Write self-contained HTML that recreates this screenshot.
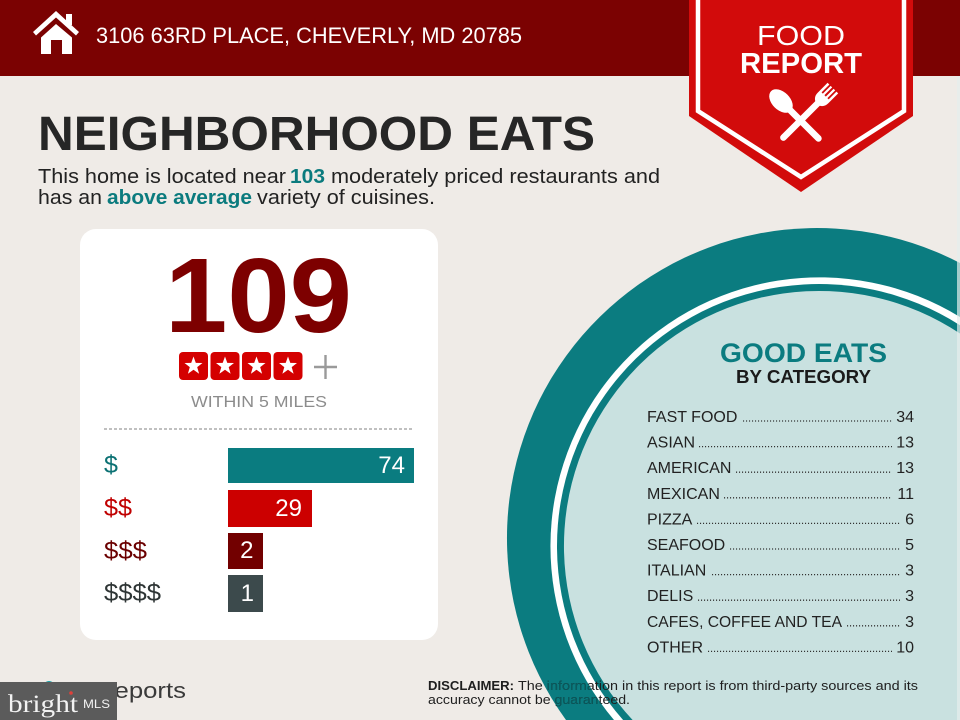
<!DOCTYPE html>
<html><head><meta charset="utf-8"><style>
html,body{margin:0;padding:0;background:#efebe7;width:960px;height:720px;overflow:hidden;}
svg{display:block;}
text{font-family:"Liberation Sans",Arial,sans-serif;}
</style></head><body>
<svg width="960" height="720" viewBox="0 0 960 720" xmlns="http://www.w3.org/2000/svg">
<defs>
<clipPath id="ring"><path clip-rule="evenodd" d="M960,263 A310,310 0 0,0 566,720 L960,720 Z M960,317 A269,269 0 0,0 614,720 L960,720 Z"/></clipPath>
<symbol id="star" viewBox="-10 -10 20 20"><polygon fill="#fff" points="0,-9.5 2.3,-3.1 9,-3 3.7,1.1 5.6,7.7 0,3.8 -5.6,7.7 -3.7,1.1 -9,-3 -2.3,-3.1"/></symbol>
</defs>
<rect width="960" height="720" fill="#efebe7"/>
<!-- header -->
<rect x="0" y="0" width="960" height="76" fill="#7b0202"/>
<g fill="#fff">
<polygon points="33,32 56,11 79,32 76,35.5 56,17.5 36,35.5"/>
<rect x="66" y="14" width="6" height="11"/>
<path d="M41,37.5 L56,24 L72,37.5 L72,54 L62,54 L62,40 L51,40 L51,54 L41,54 Z"/>
</g>
<text x="96" y="43" font-size="22" fill="#fff" textLength="426" lengthAdjust="spacingAndGlyphs">3106 63RD PLACE, CHEVERLY, MD 20785</text>
<!-- banner -->
<polygon points="689,0 913,0 913,116 801,192 689,116" fill="#d20b0b"/>
<polyline points="698,0 698,111 801,177 904,111 904,0" fill="none" stroke="#fff" stroke-width="4.5"/>
<text x="757" y="45" font-size="28" fill="#fff" textLength="88" lengthAdjust="spacingAndGlyphs">FOOD</text>
<text x="740" y="73" font-size="29" font-weight="bold" fill="#fff" textLength="122" lengthAdjust="spacingAndGlyphs">REPORT</text>
<g fill="#fff" stroke="#fff">
<g transform="translate(823,98) rotate(45)">
<path stroke="none" d="M-7.5,-14 L-5,-14 L-5,-3 L-3.2,-3 L-3.2,-14 L-1,-14 L-1,-3 L1,-3 L1,-14 L3.2,-14 L3.2,-3 L5,-3 L5,-14 L7.5,-14 L7.5,0 Q7.5,7 0,9 Q-7.5,7 -7.5,0 Z"/>
<line x1="0" y1="6" x2="0" y2="56" stroke-width="6.5" stroke-linecap="round"/>
</g>
<g transform="translate(781,101) rotate(-45)">
<ellipse cx="0" cy="0" rx="9" ry="14" stroke="none"/>
<line x1="0" y1="8" x2="0" y2="53" stroke-width="6.5" stroke-linecap="round"/>
</g>
</g>
<!-- title -->
<text x="38" y="150" font-size="48" font-weight="bold" fill="#262626" textLength="557" lengthAdjust="spacingAndGlyphs">NEIGHBORHOOD EATS</text>
<g font-size="20" fill="#222">
<text x="38" y="183" textLength="248" lengthAdjust="spacingAndGlyphs">This home is located near</text>
<text x="290" y="183" font-weight="bold" fill="#0b7b7e" textLength="35" lengthAdjust="spacingAndGlyphs">103</text>
<text x="331" y="183" textLength="329" lengthAdjust="spacingAndGlyphs">moderately priced restaurants and</text>
<text x="38" y="204" textLength="64" lengthAdjust="spacingAndGlyphs">has an</text>
<text x="107" y="204" font-weight="bold" fill="#0b7b7e" textLength="145" lengthAdjust="spacingAndGlyphs">above average</text>
<text x="257" y="204" textLength="178" lengthAdjust="spacingAndGlyphs">variety of cuisines.</text>
</g>
<!-- card -->
<rect x="80" y="229" width="358" height="411" rx="16" fill="#fff"/>
<text x="165" y="332" font-size="106" font-weight="bold" fill="#7d0000" textLength="187" lengthAdjust="spacingAndGlyphs">109</text>
<g>
<rect x="179" y="352" width="29" height="28" rx="4" fill="#d40000"/>
<rect x="210.5" y="352" width="29" height="28" rx="4" fill="#d40000"/>
<rect x="242" y="352" width="29" height="28" rx="4" fill="#d40000"/>
<rect x="273.5" y="352" width="29" height="28" rx="4" fill="#d40000"/>
<use href="#star" x="183.5" y="356" width="20" height="20"/>
<use href="#star" x="215" y="356" width="20" height="20"/>
<use href="#star" x="246.5" y="356" width="20" height="20"/>
<use href="#star" x="278" y="356" width="20" height="20"/>
</g>
<g stroke="#9a9a9a" stroke-width="2.4"><line x1="314" y1="367" x2="337" y2="367"/><line x1="325.5" y1="355" x2="325.5" y2="379"/></g>
<text x="191" y="407" font-size="16" fill="#8c8c8c" textLength="136" lengthAdjust="spacingAndGlyphs">WITHIN 5 MILES</text>
<line x1="104" y1="429" x2="414" y2="429" stroke="#9a9a9a" stroke-width="1.2" stroke-dasharray="3 2"/>
<!-- bars -->
<rect x="228" y="448" width="186" height="35" fill="#0a7c80"/>
<rect x="228" y="490" width="84" height="37" fill="#cc0000"/>
<rect x="228" y="533" width="35" height="36" fill="#720000"/>
<rect x="228" y="575" width="35" height="37" fill="#3c4a4c"/>
<g font-size="25">
<text x="104" y="473" fill="#0b7173">$</text>
<text x="104" y="516" fill="#c00000" textLength="28" lengthAdjust="spacingAndGlyphs">$$</text>
<text x="104" y="559" fill="#6b0000" textLength="43" lengthAdjust="spacingAndGlyphs">$$$</text>
<text x="104" y="601" fill="#2e3535" textLength="57" lengthAdjust="spacingAndGlyphs">$$$$</text>
</g>
<g font-size="24" fill="#fff" text-anchor="end">
<text x="405" y="473">74</text>
<text x="302" y="516">29</text>
<text x="253.5" y="558">2</text>
<text x="254" y="601">1</text>
</g>
<!-- circle (clipped to frame) -->
<path d="M960,263 A310,310 0 0,0 566,720 L960,720 Z" fill="#0b7c80"/>
<path d="M960,317 A269,269 0 0,0 614,720 L960,720 Z" fill="#fff"/>
<path d="M960,325.2 A262,262 0 0,0 623.1,720 L960,720 Z" fill="#0b7c80"/>
<path d="M960,333.5 A255,255 0 0,0 632.6,720 L960,720 Z" fill="#c9e1e0"/>
<rect x="957" y="76" width="3" height="644" fill="#e6eeed" opacity="0.7"/>
<text x="720" y="362" font-size="27" font-weight="bold" fill="#0b7c80" textLength="167" lengthAdjust="spacingAndGlyphs">GOOD EATS</text>
<text x="736" y="383" font-size="18" font-weight="bold" fill="#1a1a1a" textLength="135" lengthAdjust="spacingAndGlyphs">BY CATEGORY</text>
<g font-size="16" fill="#222">
<text x="647" y="422">FAST FOOD</text>
<text x="647" y="447.6">ASIAN</text>
<text x="647" y="473.2">AMERICAN</text>
<text x="647" y="498.8">MEXICAN</text>
<text x="647" y="524.4">PIZZA</text>
<text x="647" y="550">SEAFOOD</text>
<text x="647" y="575.6">ITALIAN</text>
<text x="647" y="601.2">DELIS</text>
<text x="647" y="626.8" textLength="195" lengthAdjust="spacingAndGlyphs">CAFES, COFFEE AND TEA</text>
<text x="647" y="652.4">OTHER</text>
</g>
<g font-size="16" fill="#222" text-anchor="end">
<text x="914" y="422">34</text>
<text x="914" y="447.6">13</text>
<text x="914" y="473.2">13</text>
<text x="914" y="498.8">11</text>
<text x="914" y="524.4">6</text>
<text x="914" y="550">5</text>
<text x="914" y="575.6">3</text>
<text x="914" y="601.2">3</text>
<text x="914" y="626.8">3</text>
<text x="914" y="652.4">10</text>
</g>
<g stroke="#333" stroke-width="1.3" stroke-dasharray="1.1 1.9">
<line x1="743" y1="421" x2="892" y2="421"/>
<line x1="699" y1="446.6" x2="892" y2="446.6"/>
<line x1="736" y1="472.2" x2="892" y2="472.2"/>
<line x1="724" y1="497.8" x2="892" y2="497.8"/>
<line x1="697" y1="523.4" x2="900" y2="523.4"/>
<line x1="730" y1="549" x2="900" y2="549"/>
<line x1="712" y1="574.6" x2="900" y2="574.6"/>
<line x1="698" y1="600.2" x2="900" y2="600.2"/>
<line x1="847" y1="625.8" x2="900" y2="625.8"/>
<line x1="708" y1="651.4" x2="892" y2="651.4"/>
</g>
<!-- disclaimer -->
<g font-size="13" fill="#1e1e1e">
<text x="428" y="690" font-weight="bold" textLength="86" lengthAdjust="spacingAndGlyphs">DISCLAIMER:</text>
<text x="518" y="690" textLength="400" lengthAdjust="spacingAndGlyphs">The information in this report is from third-party sources and its</text>
<text x="428" y="704" textLength="202" lengthAdjust="spacingAndGlyphs">accuracy cannot be guaranteed.</text>
</g>
<g font-size="13" fill="#0a5a5d" clip-path="url(#ring)">
<text x="518" y="690" textLength="400" lengthAdjust="spacingAndGlyphs">The information in this report is from third-party sources and its</text>
<text x="428" y="704" textLength="202" lengthAdjust="spacingAndGlyphs">accuracy cannot be guaranteed.</text>
</g>
<!-- footer logo -->
<circle cx="49" cy="687" r="6" fill="#1aa3a8"/>
<text x="96" y="698" font-size="22" fill="#3a3a3a" textLength="90" lengthAdjust="spacingAndGlyphs">Reports</text>
<rect x="0" y="682" width="117" height="38" fill="#5b5b5b"/>
<text x="8" y="712" font-size="25" fill="#f2f2f2" style="font-family:'Liberation Serif',serif" textLength="70" lengthAdjust="spacingAndGlyphs">bright</text>
<circle cx="71" cy="693" r="1.8" fill="#e0403a"/>
<text x="83" y="708" font-size="12" fill="#f2f2f2" textLength="27" lengthAdjust="spacingAndGlyphs">MLS</text>
</svg>
</body></html>
